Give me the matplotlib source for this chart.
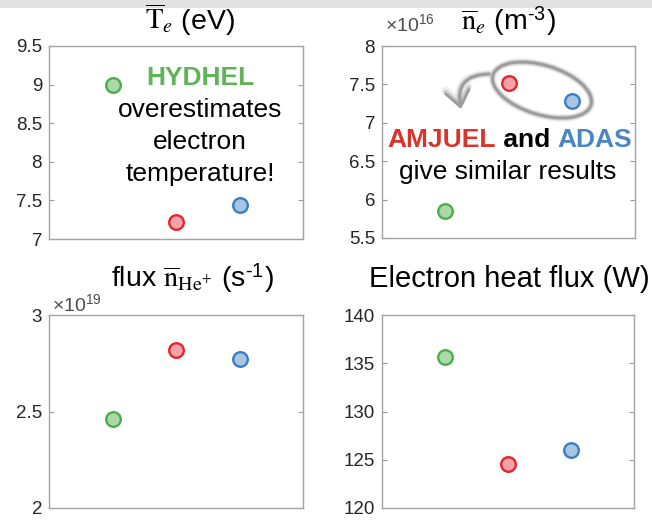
import matplotlib
matplotlib.use('Agg')
import matplotlib.pyplot as plt
from matplotlib.patches import Ellipse, FancyArrowPatch, Rectangle
from matplotlib.ticker import FuncFormatter, MultipleLocator

plt.rcParams['font.family'] = ['Liberation Sans', 'DejaVu Sans']
plt.rcParams['mathtext.fontset'] = 'custom'
plt.rcParams['mathtext.rm'] = 'STIXGeneral'
plt.rcParams['mathtext.it'] = 'STIXGeneral:italic'
plt.rcParams['mathtext.bf'] = 'STIXGeneral:bold'
plt.rcParams['mathtext.sf'] = 'Liberation Sans'

W, H, DPI = 652, 521, 100

# ---- data -------------------------------------------------------------
models = ['HYDHEL', 'AMJUEL', 'ADAS']
positions = [1, 2, 3]
edge_colors = ['#4cae4a', '#e8232b', '#3a7fc1']
face_colors = ['#acd9a8', '#f3a3a8', '#a8c6e4']

te_ev = [9.00, 7.22, 7.44]
ne_m3 = [5.85e16, 7.52e16, 7.28e16]
he_flux_s = [2.46e19, 2.82e19, 2.77e19]
heat_flux_w = [135.6, 124.6, 126.0]

panels = [
    # values, ylim, tick step, scale, axes box in pixels (left, top, right, bottom)
    (te_ev, (7.0, 9.5), 0.5, 1.0, (49, 46, 303, 239)),
    (ne_m3, (5.5e16, 8.0e16), 0.5e16, 1e16, (382, 46, 635, 238)),
    (he_flux_s, (2.0e19, 3.0e19), 0.5e19, 1e19, (49, 315, 303, 508)),
    (heat_flux_w, (120.0, 140.0), 5.0, 1.0, (382, 315, 634, 508)),
]

fig = plt.figure(figsize=(W / DPI, H / DPI), dpi=DPI)


def fx(x):
    return x / W


def fy(y):
    return 1 - y / H


axes = []
for values, ylim, step, scale, (l, t, r, b) in panels:
    ax = fig.add_axes([fx(l), fy(b), (r - l) / W, (b - t) / H])
    for xi, v, ec, fc in zip(positions, values, edge_colors, face_colors):
        ax.plot(xi, v, 'o', ms=10.5, mew=1.7, mec=ec, mfc=fc, zorder=3)
    ax.set_xlim(0, 4)
    ax.set_ylim(*ylim)
    ax.set_xticks([])
    ax.yaxis.set_major_locator(MultipleLocator(step))
    ax.yaxis.set_major_formatter(FuncFormatter(lambda v, p, s=scale: f'{v / s:g}'))
    ax.tick_params(axis='y', direction='in', length=3.5, width=0.8, left=True,
                   right=True, color='#9a9a9a', labelcolor='#262626',
                   labelsize=13.5, pad=5)
    for sp in ax.spines.values():
        sp.set_color('#a3a3a3')
        sp.set_linewidth(1.0)
    axes.append(ax)

# light grey strip along the top edge
fig.add_artist(Rectangle((0, fy(8)), 1, 8 / H, transform=fig.transFigure,
                         fc='#e2e2e2', ec='none', zorder=1))

# ---- titles -----------------------------------------------------------
HY = '\u2010'
fig.text(fx(190), fy(30), r'$\overline{\mathrm{T}}_{e}$ (eV)',
         ha='center', va='baseline', fontsize=20.5)
fig.text(fx(508), fy(30), r'$\overline{\mathrm{n}}_{e}$ (m$^{\mathsf{' + HY + '3}}$)',
         ha='center', va='baseline', fontsize=20.5)
fig.text(fx(192), fy(287), r'flux $\overline{\mathrm{n}}_{\mathrm{He^{+}}}$ (s$^{\mathsf{' + HY + '1}}$)',
         ha='center', va='baseline', fontsize=20.5)
fig.text(fx(509), fy(287), 'Electron heat flux (W)',
         ha='center', va='baseline', fontsize=21)

# exponent labels
fig.text(fx(385), fy(32), r'×10$^{\mathsf{16}}$', ha='left', va='baseline',
         fontsize=14, color='#4d4d4d')
fig.text(fx(52), fy(312), r'×10$^{\mathsf{19}}$', ha='left', va='baseline',
         fontsize=14, color='#4d4d4d')

# ---- annotations ------------------------------------------------------
green_txt, red_txt, blue_txt = '#5fb458', '#d8342c', '#4a86c5'
fig.text(fx(200), fy(85), 'HYDHEL', color=green_txt, weight='bold',
         fontsize=19, ha='center', va='baseline')
for line, yb in zip(['overestimates', 'electron', 'temperature!'], [117, 149, 181]):
    fig.text(fx(200), fy(yb), line, fontsize=19, ha='center', va='baseline')

parts = [('AMJUEL', red_txt), (' and ', 'black'), ('ADAS', blue_txt)]
part_texts = [fig.text(0, fy(147), s, color=c, weight='bold', fontsize=19,
                       ha='left', va='baseline') for s, c in parts]
fig.canvas.draw()
renderer = fig.canvas.get_renderer()
widths = [t.get_window_extent(renderer).width for t in part_texts]
x0 = 509.5 - sum(widths) / 2
for t, w in zip(part_texts, widths):
    t.set_x(fx(x0))
    x0 += w
fig.text(fx(508), fy(179), 'give similar results', fontsize=19,
         ha='center', va='baseline')


# grey ellipse around AMJUEL / ADAS and hooked arrow
def to_in(x, y):
    return x / DPI, (H - y) / DPI


for lw, col, a in [(5.5, '#b4b4b4', 0.22), (3.6, '#a4a4a4', 0.45), (2.0, '#9c9c9c', 1.0)]:
    fig.add_artist(Ellipse(to_in(542, 90), 1.024, 0.494, angle=-17,
                           transform=fig.dpi_scale_trans, fill=False,
                           lw=lw, ec=col, alpha=a, zorder=4))
    fig.add_artist(FancyArrowPatch(to_in(489, 74), to_in(461, 109),
                                   connectionstyle='arc3,rad=0.6',
                                   arrowstyle='->,head_length=0.55,head_width=0.42',
                                   transform=fig.dpi_scale_trans,
                                   shrinkA=0, shrinkB=0, lw=lw, color=col,
                                   alpha=a, zorder=4, mutation_scale=20,
                                   capstyle='round', joinstyle='round'))

fig.savefig('out.png', dpi=DPI)
